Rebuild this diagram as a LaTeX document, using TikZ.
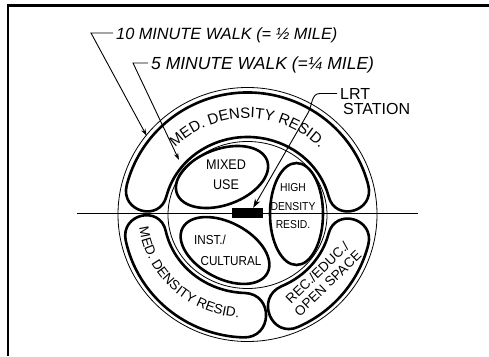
\documentclass[tikz,border=0pt]{standalone}
\usepackage{fontspec}
\setmainfont{Liberation Sans}
\newfontfamily\handfont[FakeStretch=0.9]{Liberation Sans}
\usetikzlibrary{arrows.meta,decorations.text}
\begin{document}
\begin{tikzpicture}[x=1pt,y=1pt,
  thinline/.style={line width=0.8pt},
  band/.style={line width=2.6pt, line join=round},
  oval/.style={line width=2.6pt},
  leader/.style={line width=0.9pt},
  tipsmall/.style={-{Stealth[length=7pt,width=4.5pt]}},
  tipbig/.style={-{Stealth[length=9pt,width=6pt]}},
  lbl/.style={inner sep=0pt},
  walk/.style={inner xsep=3pt, inner ysep=0pt}
]
\useasboundingbox (0,0) rectangle (489,356);
% frame
\draw[line width=2.4pt] (8,0) -- (8,350.5) -- (489,350.5);
\coordinate (C) at (247.5,141);
% thin circles and axis
\draw[thinline] (247.5,141.5) ellipse[x radius=129.5, y radius=127];
\draw[thinline] (247.5,141) ellipse[x radius=79.5, y radius=73.5];
\draw[thinline] (77,143) -- (418,143);
% bands
\begin{scope}[shift={(C)}]
 \draw[band] (14:124.5 and 122.5) arc[start angle=14,end angle=166,x radius=124.5,y radius=122.5]
   to[out=256,in=256,looseness=1.7] (166:83.5 and 78)
   arc[start angle=166,end angle=14,x radius=83.5,y radius=78]
   to[out=-76,in=-76,looseness=1.7] (14:124.5 and 122.5) -- cycle;
 \draw[band] (192:124.5 and 122.5) arc[start angle=192,end angle=268,x radius=124.5,y radius=122.5]
   to[out=358,in=358,looseness=1.7] (268:83.5 and 78)
   arc[start angle=268,end angle=192,x radius=83.5,y radius=78]
   to[out=102,in=102,looseness=1.7] (192:124.5 and 122.5) -- cycle;
 \draw[band] (294:124.5 and 122.5) arc[start angle=294,end angle=346,x radius=124.5,y radius=122.5]
   to[out=76,in=76,looseness=1.7] (346:83.5 and 78)
   arc[start angle=346,end angle=294,x radius=83.5,y radius=78]
   to[out=204,in=204,looseness=1.7] (294:124.5 and 122.5) -- cycle;
 % curved texts
 \path[decorate, decoration={text along path, text align=center,
    text={|\fontsize{15}{15}\selectfont|MED. DENSITY RESID.}}]
    (160:100 and 97) arc[start angle=160,end angle=20,x radius=100,y radius=97];
 \path[decorate, decoration={text along path, text align=center,
    text={|\fontsize{13.5}{13.5}\selectfont|MED. DENSITY RESID.}}]
    (176:109 and 103) arc[start angle=176,end angle=276,x radius=109,y radius=103];
\end{scope}
% inner ovals
\draw[oval, rotate around={20:(222,179)}] (222,179) ellipse[x radius=48, y radius=28];
\draw[oval, rotate around={-28:(225,105.5)}] (225,105.5) ellipse[x radius=48, y radius=28];
\draw[oval] (296.5,142) ellipse[x radius=26.5, y radius=51];
% inner texts
\node[lbl, align=center, font=\handfont\fontsize{14}{20}\selectfont] (mixed) at (226,181) {MIXED\\USE};
\node[lbl, font=\handfont\fontsize{13}{13}\selectfont] (inst) at (210,116.5) {INST./};
\node[lbl, font=\handfont\fontsize{13}{13}\selectfont] (cult) at (231,95) {CULTURAL};
\node[lbl, align=center, font=\handfont\fontsize{11.5}{18.5}\selectfont] (high) at (293,149.5) {HIGH\\DENSITY\\RESID.};
\node[lbl, rotate=44, align=center, font=\fontsize{13.5}{15}\selectfont] (rec) at (322.5,78) {REC./EDUC./\\OPEN SPACE};
% LRT station
\node[fill=black, minimum width=31pt, minimum height=10pt, inner sep=0pt] (lrt) at (247.5,143) {};
% labels
\node[walk, anchor=base west, font=\fontsize{16.3}{16}\selectfont\itshape] (l10) at (113,316) {10 MINUTE WALK (= ½ MILE)};
\node[walk, anchor=base west, font=\fontsize{17.5}{17}\selectfont\itshape] (l5) at (148,286) {5 MINUTE WALK (=¼ MILE)};
\node[walk, anchor=west, font=\fontsize{16}{16}\selectfont] (lrtl) at (337,262.5) {LRT};
\node[walk, anchor=west, font=\fontsize{16}{16}\selectfont] (lrts) at (340,247.5) {STATION};
% leaders
\coordinate (k10) at (91,323);
\coordinate (a10) at (146.6,220.3);
\coordinate (k5) at (133,293);
\coordinate (a5) at (179,196);
\coordinate (kl) at (308,243);
\draw[leader, tipsmall] (l10.west |- k10) -- (k10) -- (a10);
\draw[leader, tipsmall] (l5.west |- k5) -- (k5) -- (a5);
\draw[leader, tipbig] (lrtl.west) -- ++(-17,0) to[out=180,in=60] (kl) -- ([xshift=-10pt]lrt.north east);
\end{tikzpicture}
\end{document}
